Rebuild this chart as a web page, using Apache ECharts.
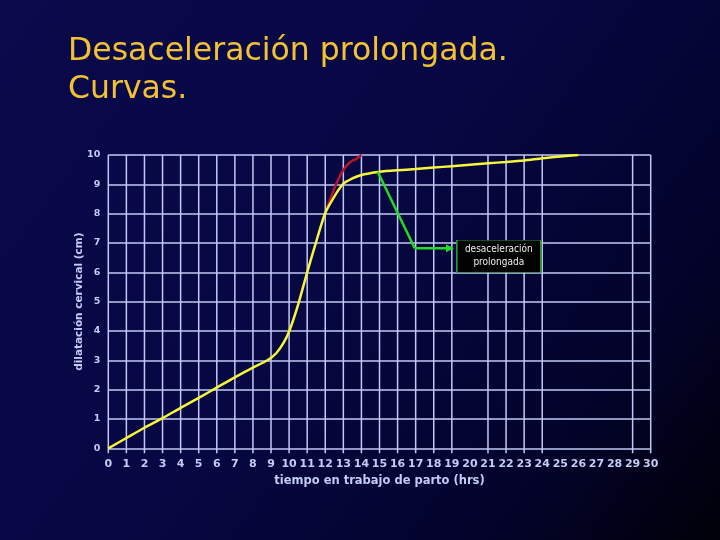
<!DOCTYPE html>
<html>
<head>
<meta charset="utf-8">
<script src="https://cdn.jsdelivr.net/npm/echarts@6/dist/echarts.min.js"></script>
<style>html,body{margin:0;padding:0;background:#000}#c{width:720px;height:540px}</style>
</head>
<body>
<div id="c"></div>
<script>
// ---- data ----
const titleText = 'Desaceleración prolongada.\nCurvas.';
const xName = 'tiempo en trabajo de parto (hrs)';
const yName = 'dilatación cervical (cm)';
const annotationText = 'desaceleración\nprolongada';

const normalCurve = [
  [0,0],[1,0.35],[2,0.7],[3,1.03],[4,1.38],[5,1.72],[6,2.07],[7,2.42],[8,2.75],[8.8,3.0],
  [9.3,3.25],[9.7,3.6],[10,3.98],[10.5,4.9],[11,6.0],[11.5,7.05],[12,8.02],[12.5,8.58],
  [13,9.02],[13.5,9.2],[14,9.32],[14.5,9.38],[15,9.43],[16,9.48],[17,9.52],[18,9.57],
  [19,9.62],[20,9.67],[21,9.72],[22,9.76],[23,9.81],[24,9.89],[25,9.95],[26,10.0]
];
const fastCurve = [[12.1,8.2],[12.6,9.0],[13,9.49],[13.4,9.77],[13.7,9.86],[14,10]];
const arrowDiagonal = [[14.9,9.43],[16.95,6.82]];
const arrowHorizontal = [[16.95,6.82],[18.9,6.82]];
const annotationAt = [21.6,6.55];
const gridX = [0,1,2,3,4,5,6,7,8,9,10,11,12,13,14,15,16,17,18,19,21,22,23,24,29,30];

const gridColor = '#c2c8f6';
const labelColor = '#c4cbf4';

const chart = echarts.init(document.getElementById('c'), null, {renderer:'canvas'});
chart.setOption({
  animation:false,
  backgroundColor:{type:'linear',x:0,y:0,x2:1,y2:1,colorStops:[
    {offset:0,color:'#0a0a4c'},{offset:0.45,color:'#070744'},{offset:0.8,color:'#03032a'},{offset:1,color:'#000008'}]},
  title:{text:titleText,left:68,top:33,padding:0,
    textStyle:{color:'#f2c232',fontFamily:'DejaVu Sans',fontSize:31.5,fontWeight:'normal',lineHeight:38}},
  grid:{left:108.3,right:69.3,top:155,bottom:91.7},
  xAxis:{type:'value',min:0,max:30,interval:1,
    name:xName,nameLocation:'middle',nameGap:27,
    nameTextStyle:{color:labelColor,fontFamily:'DejaVu Sans',fontWeight:'bold',fontSize:11.5},
    axisLine:{show:false},axisTick:{show:false},splitLine:{show:false},
    axisLabel:{color:labelColor,fontFamily:'DejaVu Sans',fontWeight:'bold',fontSize:11,margin:10,showMinLabel:true,showMaxLabel:true}},
  yAxis:{type:'value',min:0,max:10,interval:1,
    name:yName,nameLocation:'middle',nameGap:24,nameRotate:90,nameMoveOverlap:false,
    nameTextStyle:{color:labelColor,fontFamily:'DejaVu Sans',fontWeight:'bold',fontSize:10.5},
    axisLine:{show:false},axisTick:{show:false},
    splitLine:{show:true,lineStyle:{color:gridColor,width:1.5}},
    axisLabel:{color:labelColor,fontFamily:'DejaVu Sans',fontWeight:'bold',fontSize:9.5,margin:8}},
  series:[
    {type:'custom',silent:true,z:1,data:gridX.map(v=>[v,0]),
      renderItem:function(params,api){
        const v=api.value(0);
        const t=api.coord([v,10]), b=api.coord([v,0]);
        return {type:'line',shape:{x1:t[0],y1:t[1],x2:b[0],y2:b[1]+5},style:{stroke:gridColor,lineWidth:1.5}};
      }},
    {type:'line',data:fastCurve,smooth:0.3,symbol:'none',z:3,
      lineStyle:{color:'#b81428',width:2.5}},
    {type:'line',data:normalCurve,smooth:0.25,symbol:'none',z:4,
      lineStyle:{color:'#f6f63a',width:2.5}},
    {type:'line',data:arrowDiagonal,symbol:'none',z:5,
      lineStyle:{color:'#22dd22',width:2.5}},
    {type:'line',data:arrowHorizontal,symbol:'none',z:5,
      lineStyle:{color:'#22dd22',width:2.5},
      markPoint:{silent:true,data:[
        {coord:arrowHorizontal[1],symbol:'triangle',symbolSize:[8,8],symbolRotate:-90,
          itemStyle:{color:'#22dd22'},label:{show:false}},
        {coord:annotationAt,symbol:'rect',symbolSize:[84,32],
          itemStyle:{color:'#020202',borderColor:'#2e9a2e',borderWidth:1},
          label:{show:true,position:'inside',formatter:annotationText,color:'#ececec',
            fontFamily:'DejaVu Sans Condensed, Liberation Sans Narrow, Liberation Sans',fontSize:10,lineHeight:13}}
      ]}}
  ]
});
</script>
</body>
</html>
